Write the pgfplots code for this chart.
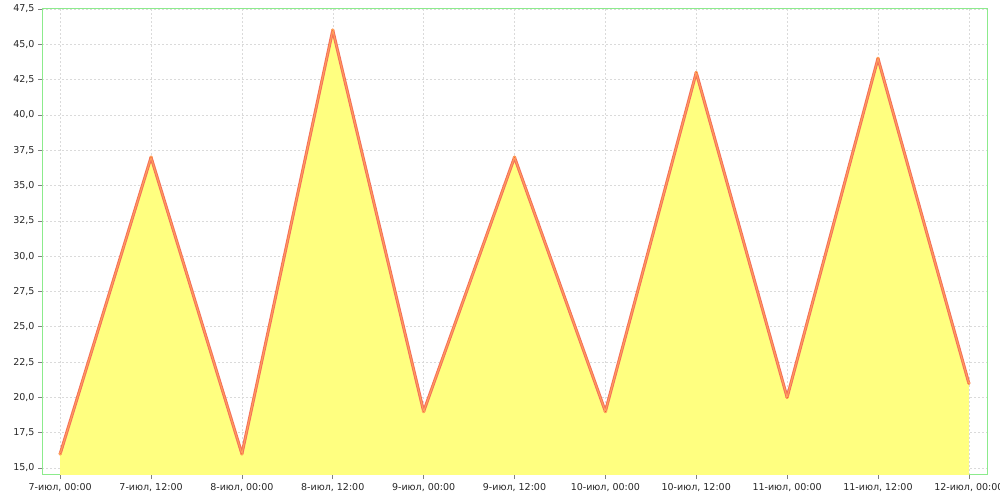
\documentclass[border=0pt]{standalone}
\usepackage{fontspec}
\setmainfont{DejaVu Sans}
\usepackage{pgfplots}
\pgfplotsset{compat=1.18}
\definecolor{fillY}{RGB}{255,255,128}
\definecolor{lineR}{RGB}{245,110,90}
\definecolor{lineO}{RGB}{255,160,90}
\definecolor{frameG}{RGB}{140,235,140}
\definecolor{gridG}{RGB}{218,218,218}
\begin{document}
\begin{tikzpicture}
\useasboundingbox (0,0) rectangle (1000pt,500pt);
\begin{axis}[
  at={(42pt,25pt)}, anchor=south west,
  width=945pt, height=466pt, scale only axis,
  xmin=-0.2, xmax=10.2, ymin=14.5, ymax=47.5,
  axis line style={frameG, line width=1pt},
  xtick={0,...,10},
  xticklabels={{7-июл, 00:00},{7-июл, 12:00},{8-июл, 00:00},{8-июл, 12:00},{9-июл, 00:00},{9-июл, 12:00},{10-июл, 00:00},{10-июл, 12:00},{11-июл, 00:00},{11-июл, 12:00},{12-июл, 00:00}},
  ytick={15,17.5,...,47.5},
  xtick pos=left, ytick pos=left,
  tick align=outside, major tick length=4pt,
  tick style={gray, line width=0.6pt},
  grid=major,
  grid style={gridG, dash pattern=on 2pt off 2pt, line width=0.5pt},
  /pgf/number format/assume math mode=true,
  /pgf/number format/.cd, use comma, fixed, fixed zerofill, precision=1,
  /pgfplots/.cd,
  ticklabel style={font=\fontsize{9.5}{11}\selectfont, text=black!85},
  xticklabel style={yshift=-1pt},
]
\addplot[fill=fillY, draw=none] coordinates {
(0,16) (1,37) (2,16) (3,46) (4,19) (5,37) (6,19) (7,43) (8,20) (9,44) (10,21)
} \closedcycle;
\addplot[lineR, line width=3pt, line join=round, line cap=round] coordinates {
(0,16) (1,37) (2,16) (3,46) (4,19) (5,37) (6,19) (7,43) (8,20) (9,44) (10,21)
};
\addplot[lineO, line width=1pt, line join=round, mark=*, mark size=1.3pt, mark options={fill=red!85!black, draw=none}] coordinates {
(0,16) (1,37) (2,16) (3,46) (4,19) (5,37) (6,19) (7,43) (8,20) (9,44) (10,21)
};
\end{axis}
\end{tikzpicture}
\end{document}
